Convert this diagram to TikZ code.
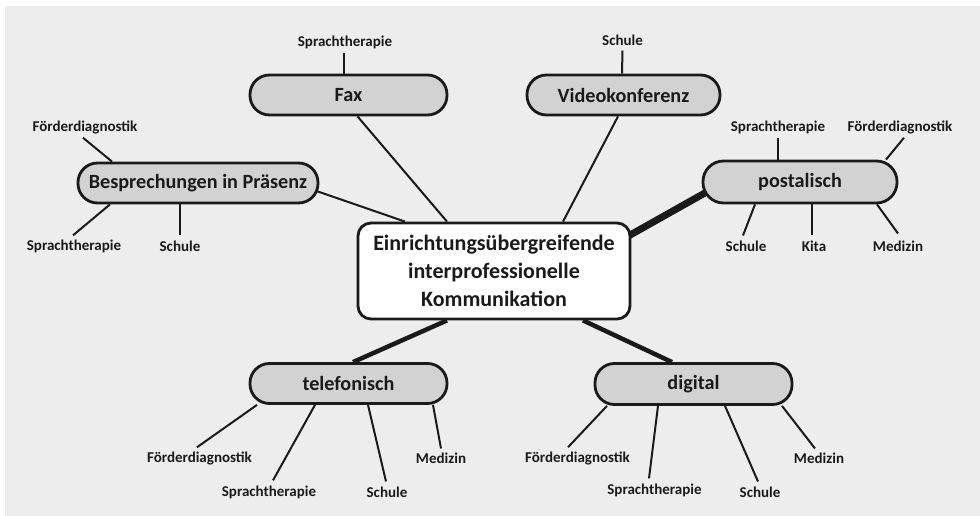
\documentclass[tikz,border=0pt]{standalone}
\usepackage{fontspec}
\setmainfont{Carlito}
\usetikzlibrary{calc}
\pgfdeclarelayer{bg}
\pgfsetlayers{bg,main}
\definecolor{bggray}{HTML}{EDEDED}
\definecolor{boxgray}{HTML}{D2D2D2}
\definecolor{ink}{HTML}{1A1A1A}
\tikzset{
  pill/.style={draw=ink, line width=2.8pt, fill=boxgray, rounded corners=19.5pt,
    inner sep=0pt, minimum height=40pt, font=\fontsize{20.2}{22}\selectfont\bfseries, text=ink},
  hub/.style={draw=ink, line width=2.8pt, fill=white, rounded corners=13pt,
    inner sep=0pt, minimum width=272pt, minimum height=96pt, align=center,
    font=\fontsize{22}{28}\selectfont\bfseries, text=ink},
  leaf/.style={inner sep=0pt, font=\fontsize{15}{17}\selectfont\bfseries, text=ink},
  thin/.style={draw=ink, line width=2pt},
  mid/.style={draw=ink, line width=4.5pt},
  thick/.style={draw=ink, line width=7pt},
}
\begin{document}
\begin{tikzpicture}[x=1pt,y=-1pt]
\useasboundingbox (0,0) rectangle (980,516);

\node[hub] (hub) at (494,271) {Einrichtungsübergreifende\\interprofessionelle\\Kommunikation};

\node[pill, minimum width=197pt] (fax) at (348.5,95) {Fax};
\node[pill, minimum width=193pt] (video) at (623.5,95) {Videokonferenz};
\node[pill, minimum width=240pt] (bes) at (198,183) {Besprechungen in Präsenz};
\node[pill, minimum width=194pt, minimum height=42pt, rounded corners=20.5pt] (post) at (800,182) {postalisch};
\node[pill, minimum width=197pt] (tel) at (348.5,383.5) {telefonisch};
\node[pill, minimum width=197pt, minimum height=41pt] (dig) at (693.5,384) {digital};

% leaves
\node[leaf] (faxS) at (345,42) {Sprachtherapie};
\node[leaf] (vidS) at (622.5,40) {Schule};
\node[leaf] (besF) at (85,127) {Förderdiagnostik};
\node[leaf] (besSp) at (74,246) {Sprachtherapie};
\node[leaf] (besSc) at (180,246) {Schule};
\node[leaf] (postSp) at (778,127) {Sprachtherapie};
\node[leaf] (postF) at (900,127) {Förderdiagnostik};
\node[leaf] (postSc) at (746,246) {Schule};
\node[leaf] (postK) at (814,246) {Kita};
\node[leaf] (postM) at (898,246) {Medizin};
\node[leaf] (telF) at (199.5,458) {Förderdiagnostik};
\node[leaf] (telSp) at (269,492) {Sprachtherapie};
\node[leaf] (telSc) at (387,492) {Schule};
\node[leaf] (telM) at (441,458) {Medizin};
\node[leaf] (digF) at (577.5,458) {Förderdiagnostik};
\node[leaf] (digSp) at (654.5,490) {Sprachtherapie};
\node[leaf] (digSc) at (760,492) {Schule};
\node[leaf] (digM) at (819,458) {Medizin};

\begin{pgfonlayer}{bg}
\fill[white] (0,0) rectangle (980,516);
\fill[bggray] (5,6) rectangle (980,516);
% hub connectors
\draw[thin] ([xshift=9pt]fax.south) -- ([xshift=-47pt]hub.north);
\draw[thin] ([xshift=-5.5pt]video.south) -- ([xshift=69pt]hub.north);
\draw[thin] ([xshift=-3pt,yshift=-8pt]bes.east) -- ([xshift=-89pt]hub.north);
\draw[thick] ([xshift=5pt,yshift=-10pt]post.west) -- ([xshift=-3pt,yshift=35pt]hub.east);
\draw[mid] ([xshift=4.5pt]tel.north) -- ([xshift=-47pt]hub.south);
\draw[mid] ([xshift=-21.5pt]dig.north) -- ([xshift=89pt]hub.south);
% leaf connectors
\draw[thin] ([xshift=-1pt,yshift=-4pt]faxS.south) -- ([xshift=-4.5pt]fax.north);
\draw[thin] ([yshift=-5pt]vidS.south) -- ([xshift=-1.5pt]video.north);
\draw[thin] ([xshift=-2pt,yshift=-4pt]besF.south) -- ([xshift=-86pt]bes.north);
\draw[thin] ([xshift=-1pt,yshift=4pt]besSp.north) -- ([xshift=-88pt]bes.south);
\draw[thin] ([yshift=5pt]besSc.north) -- ([xshift=-18pt]bes.south);
\draw[thin] ([yshift=-4pt]postSp.south) -- ([xshift=-22pt]post.north);
\draw[thin] ([xshift=4pt,yshift=-4pt]postF.south) -- ([xshift=86pt]post.north);
\draw[thin] ([xshift=-3pt,yshift=5pt]postSc.north) -- ([xshift=-45pt]post.south);
\draw[thin] ([xshift=-2pt,yshift=5pt]postK.north) -- ([xshift=12pt]post.south);
\draw[thin] ([yshift=7pt]postM.north) -- ([xshift=77pt]post.south);
\draw[thin] ([xshift=-2.5pt,yshift=4pt]telF.north) -- ([xshift=-91.5pt]tel.south);
\draw[thin] ([xshift=4pt,yshift=5pt]telSp.north) -- ([xshift=-33.5pt]tel.south);
\draw[thin] ([xshift=-1pt,yshift=5pt]telSc.north) -- ([xshift=19.5pt]tel.south);
\draw[thin] ([yshift=4pt]telM.north) -- ([xshift=84.5pt]tel.south);
\draw[thin] ([xshift=-9.5pt,yshift=4pt]digF.north) -- ([xshift=-86.5pt]dig.south);
\draw[thin] ([xshift=-5.5pt,yshift=5pt]digSp.north) -- ([xshift=-35.5pt]dig.south);
\draw[thin] ([xshift=-2pt,yshift=5pt]digSc.north) -- ([xshift=31.5pt]dig.south);
\draw[thin] ([xshift=-4pt,yshift=4pt]digM.north) -- ([xshift=88.5pt]dig.south);
\end{pgfonlayer}
\end{tikzpicture}
\end{document}
